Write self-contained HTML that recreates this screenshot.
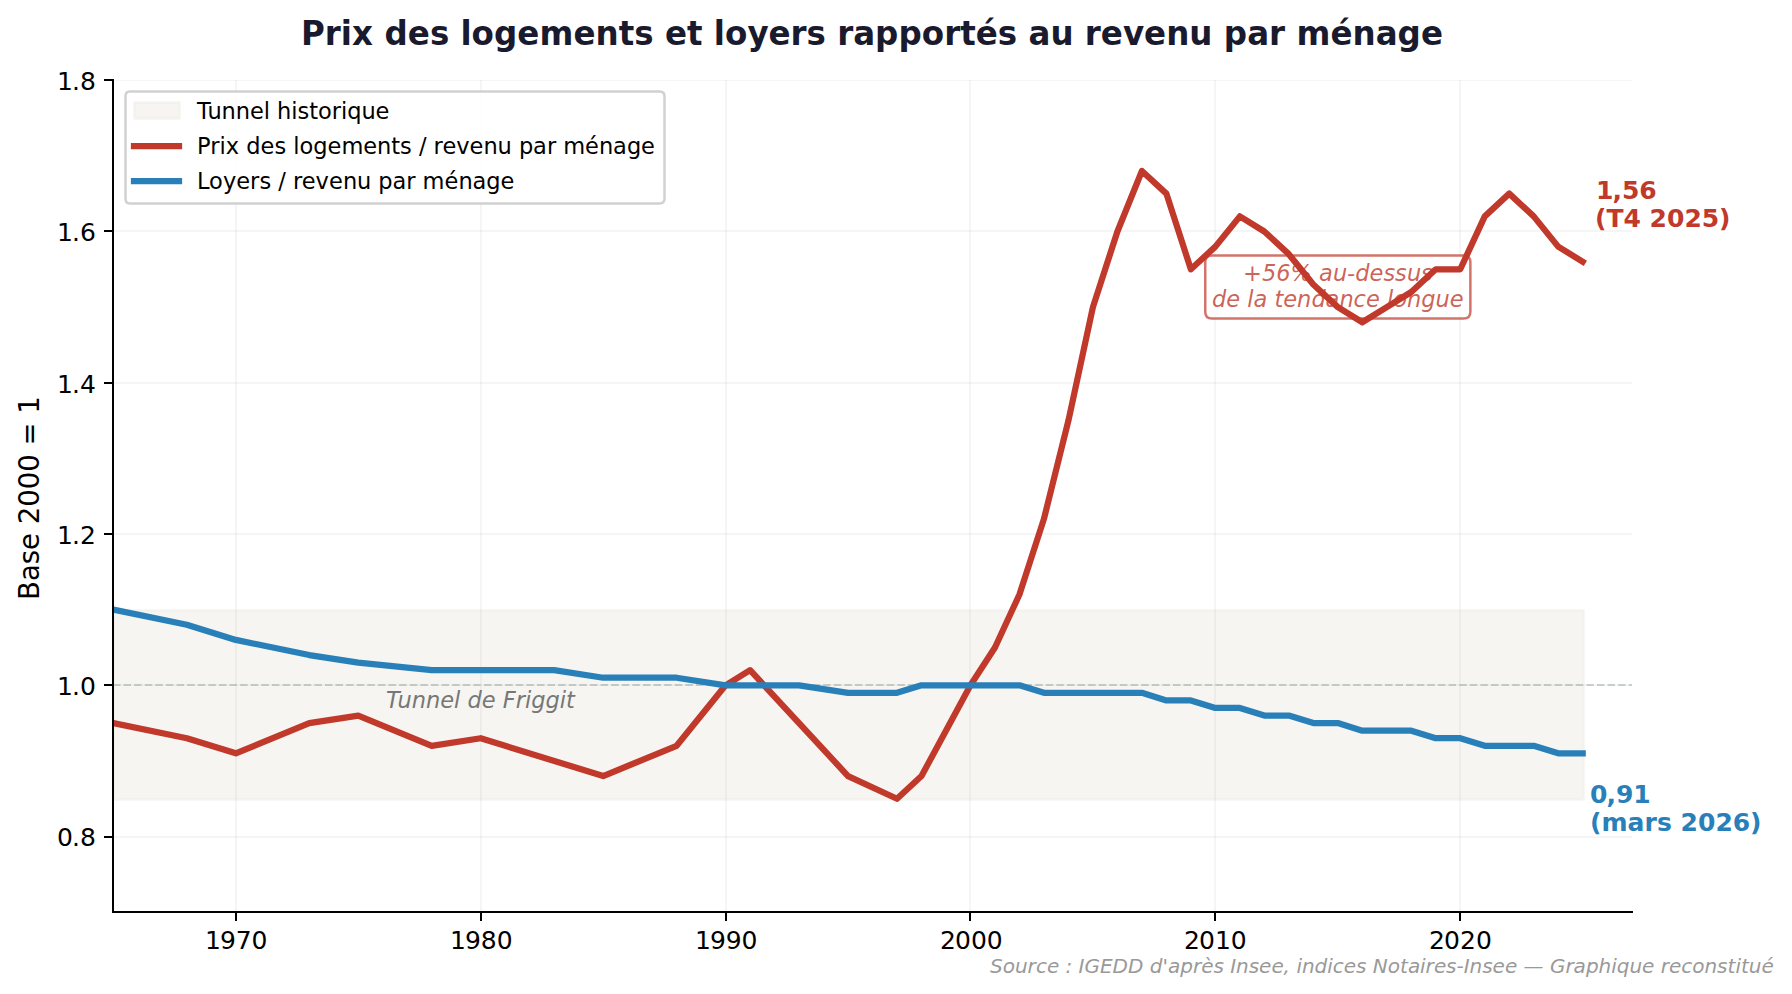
<!DOCTYPE html>
<html lang="fr">
<head>
<meta charset="utf-8">
<title>Prix des logements et loyers rapportés au revenu par ménage</title>
<style>
  html, body { margin: 0; padding: 0; background: #ffffff; }
  body { width: 1792px; height: 994px; overflow: hidden; }
  svg { display: block; font-family: 'DejaVu Sans', 'Liberation Sans', sans-serif; }
  svg text { white-space: pre; }
</style>
</head>
<body>
<svg width="1792" height="994" viewBox="0 0 1792 994" role="img" aria-label="Prix des logements et loyers rapportés au revenu par ménage">
  <rect width="1792" height="994" fill="#ffffff"/>
  <defs><clipPath id="plot"><rect x="113" y="80" width="1519" height="832"/></clipPath></defs>
  <g clip-path="url(#plot)">
  <rect class="band" x="113.5" y="610.5" width="1470" height="189" fill="#edebe3" fill-opacity="0.5" stroke="#edebe3" stroke-opacity="0.5" stroke-width="2.5"/>
  <path class="grid-x" d="M236 80V912M481 80V912M726 80V912M970 80V912M1215 80V912M1460 80V912" stroke="#b0b0b0" stroke-opacity="0.125" stroke-width="2" fill="none"/>
  <path class="grid-y" d="M113 837H1632M113 685H1632M113 534H1632M113 383H1632M113 231H1632M113 80H1632" stroke="#b0b0b0" stroke-opacity="0.125" stroke-width="2" fill="none"/>
  </g>
  <g class="note" transform="translate(0 -1.25)">
  <path d="M1211.99 319.75L1463.62 319.75Q1470.37 319.75 1470.37 313L1470.37 263.4Q1470.37 256.65 1463.62 256.65L1211.99 256.65Q1205.24 256.65 1205.24 263.4L1205.24 313Q1205.24 319.75 1211.99 319.75Z" fill="#ffffff" fill-opacity="0.7" stroke="#c0392b" stroke-opacity="0.7" stroke-width="2.5"/>
  <text x="1243 1261.88 1276.25 1290.62 1312 1319.12 1332.88 1347.12 1355.25 1369.5 1383.38 1395.12 1406.88 1421.12" y="282.25" font-size="22.5" font-style="italic" fill="#c0392b" fill-opacity="0.8">+56% au-dessus</text>
  <text x="1212 1226.25 1240.12 1247.25 1253.5 1267.25 1274.38 1283.25 1297.12 1311.38 1325.62 1339.38 1353.62 1366 1379.88 1387 1393.25 1407 1421.25 1435.5 1449.75" y="308.25" font-size="22.5" font-style="italic" fill="#c0392b" fill-opacity="0.8">de la tendance longue</text>
  </g>
  <path class="ref" d="M113 685H1632" stroke="#95a5a6" stroke-opacity="0.5" stroke-width="2" stroke-dasharray="7.4 3.2" fill="none"/>
  <g clip-path="url(#plot)" fill="none" stroke-width="6.25" stroke-linejoin="round" stroke-linecap="square">
  <polyline class="prix" points="113.38,723.11 186.84,738.24 235.82,753.36 309.28,723.11 358.26,715.55 431.73,745.8 480.7,738.24 603.15,776.05 676.61,745.8 725.59,685.29 750.08,670.16 848.03,776.05 897.01,798.75 921.5,776.05 970.48,685.29 994.97,647.47 1019.45,594.53 1043.94,518.89 1068.43,420.56 1092.92,307.11 1117.41,231.47 1141.9,170.96 1166.39,193.65 1190.87,269.29 1215.36,246.6 1239.85,216.35 1264.34,231.47 1288.83,254.16 1313.32,284.42 1337.81,307.11 1362.29,322.24 1386.78,307.11 1411.27,291.98 1435.76,269.29 1460.25,269.29 1484.74,216.35 1509.23,193.65 1533.71,216.35 1558.2,246.6 1582.69,261.73" stroke="#c0392b"/>
  <polyline class="loyers" points="113.38,609.65 186.84,624.78 235.82,639.91 309.28,655.04 358.26,662.6 431.73,670.16 480.7,670.16 554.17,670.16 603.15,677.73 676.61,677.73 725.59,685.29 750.08,685.29 799.06,685.29 848.03,692.85 897.01,692.85 921.5,685.29 970.48,685.29 994.97,685.29 1019.45,685.29 1043.94,692.85 1068.43,692.85 1092.92,692.85 1117.41,692.85 1141.9,692.85 1166.39,700.42 1190.87,700.42 1215.36,707.98 1239.85,707.98 1264.34,715.55 1288.83,715.55 1313.32,723.11 1337.81,723.11 1362.29,730.67 1386.78,730.67 1411.27,730.67 1435.76,738.24 1460.25,738.24 1484.74,745.8 1509.23,745.8 1533.71,745.8 1558.2,753.36 1582.69,753.36" stroke="#2980b9"/>
  </g>
  <path class="axes" d="M113 79V913M112 912H1633M236 912v9M481 912v9M726 912v9M970 912v9M1215 912v9M1460 912v9M113 837h-9M113 685h-9M113 534h-9M113 383h-9M113 231h-9M113 80h-9" stroke="#000000" stroke-width="2" fill="none"/>
  <g class="labels">
  <text x="205 219.88 235.75 251.62" y="949" font-size="25">1970</text>
  <text x="450 464.88 480.75 496.75" y="949" font-size="25">1980</text>
  <text x="695 709.88 725.75 741.62" y="949" font-size="25">1990</text>
  <text x="940 955 970.88 986.75" y="949" font-size="25">2000</text>
  <text x="1184 1199 1214.88 1230.75" y="949" font-size="25">2010</text>
  <text x="1429 1444 1459.88 1475.88" y="949" font-size="25">2020</text>
  <text x="57 71.88 79.88" y="846" font-size="25">0.8</text>
  <text x="57 71.88 79.88" y="695" font-size="25">1.0</text>
  <text x="57 71.88 79.88" y="544" font-size="25">1.2</text>
  <text x="57 71.88 79.88" y="393" font-size="25">1.4</text>
  <text x="57 71.88 79.88" y="241" font-size="25">1.6</text>
  <text x="57 71.88 79.88" y="90" font-size="25">1.8</text>
  <text x="39.25" y="599.94" font-size="27.5" transform="rotate(-90 39.25 599.94)">Base 2000 = 1</text>
  <text x="386 397.5 411.75 426 440.25 454.12 460.38 467.5 481.75 495.62 502.75 515.75 525 531.25 545.5 559.75 566" y="708" font-size="22.5" font-style="italic" fill="#777777">Tunnel de Friggit</text>
  <text x="1596 1612.5 1621.88 1639.25" y="199" font-size="25" font-weight="bold" fill="#c0392b">1,56</text>
  <text x="1595 1606.38 1623.38 1640.75 1649.5 1666.88 1684.38 1701.75 1719.12" y="227" font-size="25" font-weight="bold" fill="#c0392b">(T4 2025)</text>
  <text x="1590 1606.5 1615.88 1633.25" y="803" font-size="25" font-weight="bold" fill="#2980b9">0,91</text>
  <text x="1590 1601.38 1627.62 1644.62 1657 1671.75 1680.5 1697.88 1715.38 1732.75 1750.12" y="831" font-size="25" font-weight="bold" fill="#2980b9">(mars 2026)</text>
  <text x="301 324.88 340.88 352 373 384.38 407.75 429.88 449.12 460.5 471.62 494 517.38 539.5 573.5 595.62 618.75 634.25 653.5 664.88 687 702.5 713.88 725 747.38 768.5 790.62 806.62 825.88 837.25 853.25 875.12 898.5 921.88 944.25 960.25 975.75 997.88 1017.12 1028.5 1050.38 1073.5 1084.88 1100.88 1123 1144.12 1166.25 1189.38 1212.5 1223.88 1247.25 1269.12 1285.12 1296.5 1330.5 1352.62 1375.75 1397.62 1421" y="0" font-size="32.5" font-weight="bold" fill="#1a1a2e" transform="translate(0 45) scale(1 1.03)">Prix des logements et loyers rapportés au revenu par ménage</text>
  <text x="990 1002.75 1015 1027.62 1035.88 1046.88 1059.12 1065.5 1072.25 1078.62 1084.5 1100 1112.62 1128 1143.38 1149.75 1162.5 1168 1180.25 1193 1201.25 1213.5 1223.88 1230.25 1236.12 1248.75 1259.12 1271.38 1283.62 1290 1296.38 1301.88 1314.5 1327.25 1332.75 1343.75 1356 1366.38 1372.75 1387.75 1400 1407.88 1420.12 1425.62 1433.88 1446.12 1456.5 1463.75 1469.62 1482.25 1492.62 1504.88 1517.12 1523.5 1543.5 1549.88 1565.38 1573.62 1585.88 1598.62 1611.25 1616.75 1629.5 1642.12 1654.38 1660.75 1669 1681.25 1692.25 1704.5 1717.12 1727.5 1735.38 1740.88 1748.75 1761.38" y="973" font-size="20" font-style="italic" fill="#999999">Source : IGEDD d'après Insee, indices Notaires-Insee — Graphique reconstitué</text>
  </g>
  <g class="legend">
  <path d="M129.5 203.5L659.5 203.5Q664.5 203.5 664.5 198.5L664.5 96.5Q664.5 91.5 659.5 91.5L129.5 91.5Q125.5 91.5 125.5 96.5L125.5 198.5Q125.5 203.5 129.5 203.5Z" fill="#ffffff" fill-opacity="0.9" stroke="#cccccc" stroke-opacity="0.9" stroke-width="2.5"/>
  <rect x="134.5" y="102.5" width="45" height="16" fill="#edebe3" fill-opacity="0.5" stroke="#edebe3" stroke-opacity="0.5" stroke-width="2.5"/>
  <path d="M134 146H179" stroke="#c0392b" stroke-width="6.25" stroke-linecap="square" fill="none"/>
  <path d="M134 181H179" stroke="#2980b9" stroke-width="6.25" stroke-linecap="square" fill="none"/>
  <text x="197 207.5 221.62 235.75 249.88 263.75 270 277.12 291.25 297.5 309.25 318 331.75 341 347.25 361.5 375.62" y="119" font-size="22.5">Tunnel historique</text>
  <text x="197 210.25 219.5 225.75 239.12 246.25 260.5 274.38 286.12 293.25 299.5 313.25 327.5 341.38 363.25 377.12 391.25 400 411.75 418.88 426.5 433.62 442.38 456.25 469.62 483.5 497.62 511.75 518.88 533.12 546.88 556.12 563.25 585.12 599 613.12 626.88 641.12" y="154" font-size="22.5">Prix des logements / revenu par ménage</text>
  <text x="197 209.12 222.88 236.25 250.12 259.38 271.12 278.25 285.88 293 301.75 315.62 329 342.88 357 371.12 378.25 392.5 406.25 415.5 422.62 444.5 458.38 472.5 486.25 500.5" y="189" font-size="22.5">Loyers / revenu par ménage</text>
  </g>
</svg>
</body>
</html>
